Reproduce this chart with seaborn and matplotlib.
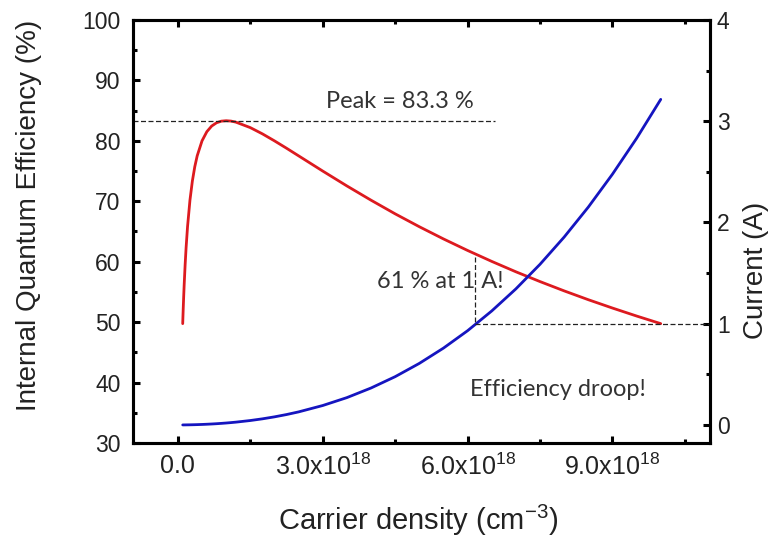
import numpy as np
import pandas as pd
import matplotlib
matplotlib.use("Agg")
import matplotlib.pyplot as plt
from matplotlib.ticker import MultipleLocator, FuncFormatter
import seaborn as sns

# ---- data (carrier density in units of 1e18 cm^-3) ----
density = [0.1, 0.11, 0.12, 0.13, 0.15, 0.17, 0.2, 0.25, 0.3, 0.35, 0.4, 0.5, 0.6,
           0.7, 0.8, 0.9, 1.0, 1.1, 1.2, 1.5, 1.75, 2.0, 2.25, 2.5, 3.0, 3.5, 4.0,
           4.5, 5.0, 5.5, 6.0, 6.5, 7.0, 7.5, 8.0, 8.5, 9.0, 9.5, 10.0]
iqe = [49.75, 52.08, 54.19, 56.11, 59.46, 62.30, 65.79, 70.18, 73.35, 75.72, 77.52,
       80.00, 81.52, 82.45, 82.99, 83.26, 83.33, 83.27, 83.10, 82.19, 81.16, 80.00,
       78.78, 77.52, 75.00, 72.54, 70.18, 67.92, 65.79, 63.77, 61.86, 60.05, 58.33,
       56.71, 55.17, 53.71, 52.33, 51.01, 49.75]
current = [0.0003, 0.0004, 0.0004, 0.0005, 0.0006, 0.0008, 0.0010, 0.0014, 0.0020,
           0.0026, 0.0033, 0.0050, 0.0071, 0.0095, 0.0123, 0.0156, 0.0192, 0.0233,
           0.0277, 0.0438, 0.0604, 0.0800, 0.1028, 0.129, 0.192, 0.270, 0.365, 0.477,
           0.608, 0.759, 0.931, 1.126, 1.344, 1.587, 1.856, 2.152, 2.477, 2.831, 3.216]

x_ticks = [0.0, 3.0, 6.0, 9.0]
peak_value = 83.3
peak_line_end = 6.56
one_amp_density = 6.15
iqe_at_1A = 61.0

df = pd.DataFrame({"n": np.array(density) * 1e18, "iqe": iqe, "current": current})

sns.set_theme(style="ticks")
plt.rcParams["font.family"] = ["Liberation Sans", "DejaVu Sans"]

fig = plt.figure(figsize=(7.74, 5.45), dpi=100)
ax = fig.add_axes([0.1718, 0.1872, 0.9173 - 0.1718, 0.9633 - 0.1872])
ax2 = ax.twinx()

sns.lineplot(data=df, x="n", y="iqe", ax=ax, color="#dd1a1f", linewidth=2.0, sort=False)
sns.lineplot(data=df, x="n", y="current", ax=ax2, color="#1515c0", linewidth=2.0, sort=False)

ax.set_xlim(-0.93e18, 11.02e18)
ax.set_ylim(30, 100)
ax2.set_ylim(-0.178, 4)

# dashed guide lines
dash = dict(color="#222222", linewidth=0.9, linestyle=(0, (4, 2)))
ax.plot([-0.93e18, peak_line_end * 1e18], [peak_value, peak_value], **dash)
ax.plot([one_amp_density * 1e18] * 2, [50, iqe_at_1A], **dash)
ax2.plot([one_amp_density * 1e18, 11.02e18], [1, 1], **dash)

# annotations
afont = ["Lato", "DejaVu Sans"]
tcol = "#333333"
ax.text(3.06e18, 86.5, "Peak = 83.3 %", fontsize=17, family=afont, color=tcol,
        va="center", ha="left")
ax.text(4.12e18, 56.8, "61 % at 1 A!", fontsize=17, family=afont, color=tcol,
        va="center", ha="left")
ax.text(6.05e18, 38.8, "Efficiency droop!", fontsize=17, family=afont, color=tcol,
        va="center", ha="left")

# ticks / formatting
def fmt(v, pos):
    if abs(v) < 1:
        return "0.0"
    return r"$\mathregular{%.1fx10^{18}}$" % (v / 1e18)

ax.set_xticks(np.array(x_ticks) * 1e18)
ax.xaxis.set_major_formatter(FuncFormatter(fmt))
ax.xaxis.set_minor_locator(MultipleLocator(1.5e18))
ax.yaxis.set_major_locator(MultipleLocator(10))
ax.yaxis.set_minor_locator(MultipleLocator(5))
ax2.yaxis.set_major_locator(MultipleLocator(1))
ax2.yaxis.set_minor_locator(MultipleLocator(0.5))
ax2.yaxis.set_major_formatter(FuncFormatter(lambda v, p: "%d" % round(v)))

for a in (ax, ax2):
    for s in a.spines.values():
        s.set_linewidth(2.2)
        s.set_color("black")
        s.set_visible(True)

lab = "#222222"
ax.tick_params(axis="x", which="both", direction="in", top=True, bottom=True,
               labelsize=18, pad=8, colors="black", labelcolor=lab)
ax.tick_params(axis="y", which="both", direction="in", left=True, right=False,
               labelsize=16.5, pad=9, colors="black", labelcolor=lab)
ax2.tick_params(axis="y", which="both", direction="in", right=True, left=False,
                labelsize=16.5, pad=5, colors="black", labelcolor=lab)
for a in (ax, ax2):
    a.tick_params(which="major", length=5, width=2.2)
    a.tick_params(which="minor", length=3, width=2.2)

ax.set_xlabel(r"Carrier density (cm$^{\mathregular{-3}}$)", fontsize=21, color=lab)
ax.set_ylabel("Internal Quantum Efficiency (%)", fontsize=20, color=lab)
ax2.set_ylabel("Current (A)", fontsize=20, color=lab)

ax.xaxis.set_label_coords((418 - 133) / 577, -(503 - 443) / 423)
ax.yaxis.set_label_coords((42 - 133) / 577, (443 - 215) / 423)
ax2.yaxis.set_label_coords((743 - 133) / 577, (443 - 270) / 423)

fig.savefig("out.png", dpi=100)
